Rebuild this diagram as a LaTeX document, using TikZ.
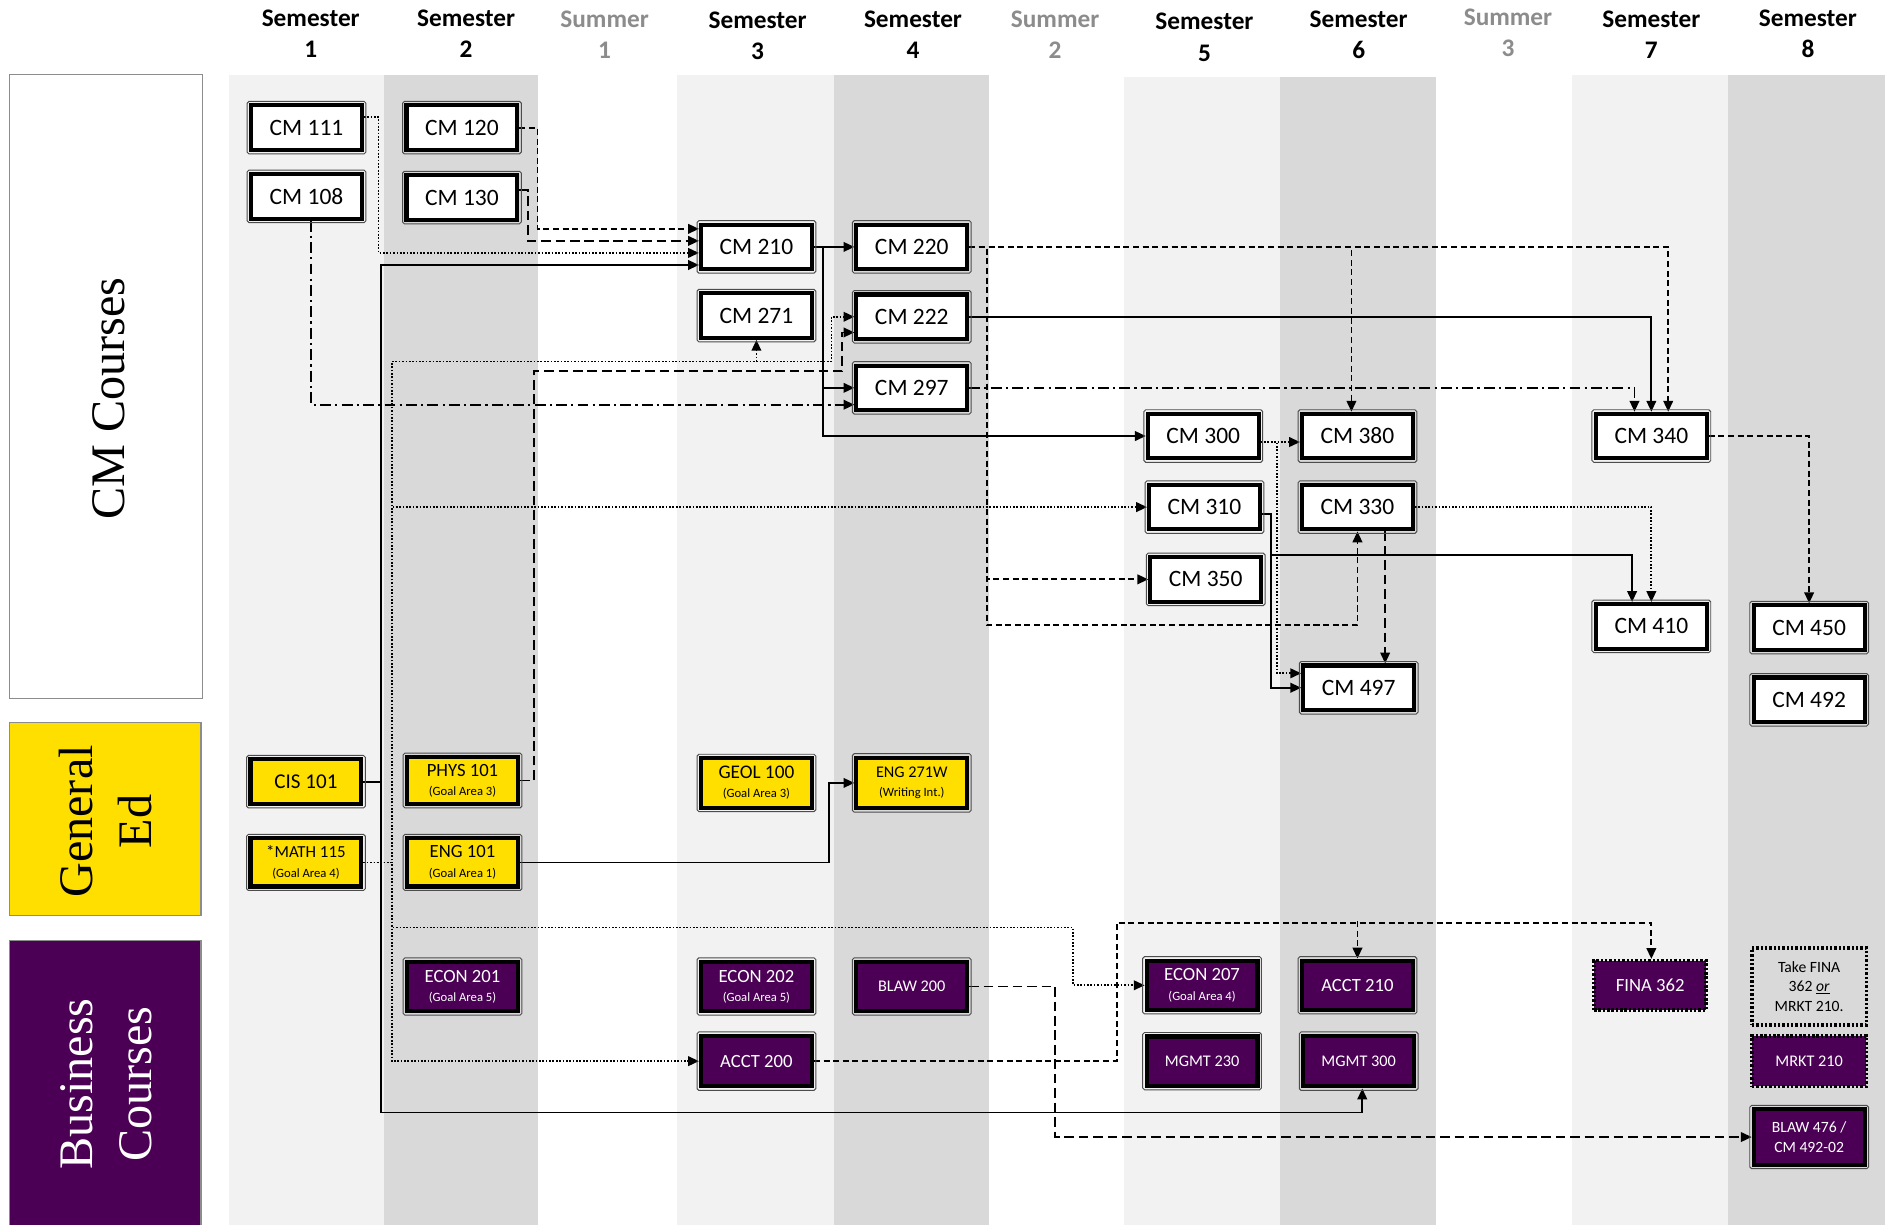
\documentclass[tikz,border=0pt]{standalone}
\usepackage{fontspec}
\setmainfont{Carlito}
\newfontfamily\seriffont{Liberation Serif}
\usetikzlibrary{arrows.meta,calc}
\definecolor{lightcol}{HTML}{F2F2F2}
\definecolor{darkcol}{HTML}{D9D9D9}
\definecolor{gold}{HTML}{FFDF00}
\definecolor{plum}{HTML}{4B0055}
\definecolor{sumgray}{HTML}{8C8C8C}
\pgfdeclarelayer{bg}
\pgfdeclarelayer{lines}
\pgfsetlayers{bg,lines,main}
\tikzset{
  cmbox/.style={draw=black, line width=3.4pt, fill=white, minimum width=92pt, minimum height=37pt,
    inner sep=0pt, align=center, font=\fontsize{19.5}{22}\selectfont},
  gebox/.style={cmbox, fill=gold, minimum height=39pt, font=\fontsize{15.5}{16}\selectfont},
  bzbox/.style={cmbox, fill=plum, text=white, minimum height=39pt, font=\fontsize{15.5}{16}\selectfont},
  dotbox/.style={draw=black, line width=2.8pt, dash pattern=on 2pt off 1.6pt, minimum width=95pt,
    inner sep=0pt, align=center},
  frame/.style={draw=black!70, line width=0.8pt, rounded corners=1.5pt},
  conn/.style={line width=1.5pt, -{Triangle[length=9pt,width=8pt]}},
  lndash/.style={dash pattern=on 5pt off 3pt},
  lndashl/.style={dash pattern=on 8pt off 4pt},
  lndot/.style={dash pattern=on 1.4pt off 1.4pt},
  lndd/.style={dash pattern=on 9pt off 3.5pt on 1.8pt off 3.5pt},
  hdr/.style={align=center, font=\fontsize{21}{26}\selectfont\bfseries, inner sep=0pt},
  side/.style={rotate=90, align=center, font=\seriffont\fontsize{40}{49}\selectfont, inner sep=0pt},
}
\begin{document}
\begin{tikzpicture}[x=1pt,y=-1pt]
\useasboundingbox (0,0) rectangle (1565,1017);
\begin{pgfonlayer}{bg}
\fill[white] (0,0) rectangle (1565,1017);
\fill[lightcol] (190,62) rectangle (319,1017);
\fill[darkcol] (319,62) rectangle (447,1017);
\fill[lightcol] (562,62) rectangle (692,1017);
\fill[darkcol] (692,62) rectangle (821,1017);
\fill[lightcol] (933,64) rectangle (1063,1017);
\fill[darkcol] (1063,64) rectangle (1192,1017);
\fill[lightcol] (1305,62) rectangle (1435,1017);
\fill[darkcol] (1435,62) rectangle (1565,1017);
\draw[draw=black!45, line width=1.2pt, fill=white] (8,62) rectangle (168,580);
\draw[draw=black!45, line width=1.2pt, fill=gold] (8,600) rectangle (167,760);
\draw[draw=black!45, line width=1.2pt, fill=plum] (8,781) rectangle (167,1020);
\end{pgfonlayer}

% side labels
\node[side] (lcm) at (90,331) {CM Courses};
\node[side] (lge) at (88,682) {General\\Ed};
\node[side, text=white] (lbz) at (88,900) {Business\\Courses};

% headers
\node[hdr] (h1) at (258,28) {Semester\\1};
\node[hdr] (h2) at (387,28) {Semester\\2};
\node[hdr, text=sumgray] (h3) at (502,29) {Summer\\1};
\node[hdr] (h4) at (629,30) {Semester\\3};
\node[hdr] (h5) at (758,29) {Semester\\4};
\node[hdr, text=sumgray] (h6) at (876,29) {Summer\\2};
\node[hdr] (h7) at (1000,31) {Semester\\5};
\node[hdr] (h8) at (1128,29) {Semester\\6};
\node[hdr, text=sumgray] (h9) at (1252,27) {Summer\\3};
\node[hdr] (h10) at (1371,29) {Semester\\7};
\node[hdr] (h11) at (1501,28) {Semester\\8};

% CM courses
\node[cmbox] (cm111) at (254.5,106) {CM 111};
\node[cmbox] (cm108) at (254.5,163) {CM 108};
\node[cmbox] (cm120) at (383.5,106) {CM 120};
\node[cmbox] (cm130) at (383.5,164) {CM 130};
\node[cmbox] (cm210) at (628,205) {CM 210};
\node[cmbox] (cm271) at (628,262) {CM 271};
\node[cmbox] (cm220) at (757,205) {CM 220};
\node[cmbox] (cm222) at (757,263) {CM 222};
\node[cmbox] (cm297) at (757,322) {CM 297};
\node[cmbox] (cm300) at (999,362) {CM 300};
\node[cmbox] (cm310) at (1000,421) {CM 310};
\node[cmbox] (cm350) at (1001,481) {CM 350};
\node[cmbox] (cm380) at (1127,362) {CM 380};
\node[cmbox] (cm330) at (1127,421) {CM 330};
\node[cmbox] (cm497) at (1128,571) {CM 497};
\node[cmbox] (cm340) at (1371,362) {CM 340};
\node[cmbox] (cm410) at (1371,520) {CM 410};
\node[cmbox] (cm450) at (1502,521) {CM 450};
\node[cmbox] (cm492) at (1502,581) {CM 492};

% General Ed
\node[gebox, minimum height=37pt, font=\fontsize{17.5}{20}\selectfont] (cis101) at (254,649) {CIS 101};
\node[gebox] (phys101) at (384,648) {PHYS 101\\{\fontsize{10.5}{12}\selectfont(Goal Area 3)}};
\node[gebox, minimum height=41pt, font=\fontsize{16}{16}\selectfont] (geol100) at (628,650) {GEOL 100\\{\fontsize{10.5}{12}\selectfont(Goal Area 3)}};
\node[gebox, minimum height=42pt, font=\fontsize{13.5}{16}\selectfont] (eng271w) at (757,650) {ENG 271W\\{\fontsize{10.5}{12}\selectfont(Writing Int.)}};
\node[gebox, minimum height=40pt, font=\fontsize{14}{16}\selectfont] (math115) at (254,716) {*MATH 115\\{\fontsize{10.5}{12}\selectfont(Goal Area 4)}};
\node[gebox, minimum height=40pt] (eng101) at (384,716) {ENG 101\\{\fontsize{10.5}{12}\selectfont(Goal Area 1)}};

% Business
\node[bzbox, minimum height=41pt] (econ201) at (384,819) {ECON 201\\{\fontsize{10.5}{12}\selectfont(Goal Area 5)}};
\node[bzbox, minimum height=41pt] (econ202) at (628,819) {ECON 202\\{\fontsize{10.5}{12}\selectfont(Goal Area 5)}};
\node[bzbox, minimum height=41pt, font=\fontsize{13.5}{16}\selectfont] (blaw200) at (757,819) {BLAW 200};
\node[bzbox, minimum height=42pt] (acct200) at (628,881) {ACCT 200};
\node[bzbox, minimum height=41pt] (econ207) at (998,818) {ECON 207\\{\fontsize{10.5}{12}\selectfont(Goal Area 4)}};
\node[bzbox, minimum height=41pt, font=\fontsize{13.5}{16}\selectfont] (mgmt230) at (998,881) {MGMT 230};
\node[bzbox, minimum height=41pt] (acct210) at (1127,818) {ACCT 210};
\node[bzbox, minimum height=42pt, font=\fontsize{13.5}{16}\selectfont] (mgmt300) at (1128,881) {MGMT 300};
\node[dotbox, fill=plum, text=white, minimum width=93pt, minimum height=41pt, font=\fontsize{15.5}{16}\selectfont] (fina362) at (1370,818) {FINA 362};
\node[dotbox, minimum height=64pt, font=\fontsize{13}{16}\selectfont] (take) at (1502,819) {Take FINA\\362 \underline{\textit{or}}\\MRKT 210.};
\node[dotbox, fill=plum, text=white, minimum height=42pt, font=\fontsize{13.5}{16}\selectfont] (mrkt210) at (1502,881) {MRKT 210};
\node[bzbox, minimum height=46pt, font=\fontsize{13}{16}\selectfont] (blaw476) at (1502,944) {BLAW 476 /\\CM 492-02};

% outer thin frames
\foreach \n in {cm111,cm108,cm120,cm130,cm210,cm271,cm220,cm222,cm297,cm300,cm310,cm350,cm380,cm330,cm497,cm340,cm410,cm450,cm492,cis101,phys101,geol100,eng271w,math115,eng101,econ201,econ202,blaw200,acct200,econ207,mgmt230,acct210,mgmt300,blaw476}
  \draw[frame] ([shift={(-1.6,-1.6)}]\n.north west) rectangle ([shift={(1.6,1.6)}]\n.south east);

\begin{pgfonlayer}{lines}
% into CM 210
\draw[conn,lndash] (cm120.east) -- ++(15,0) |- ($(cm210.west)+(0,-15)$);
\draw[conn,lndashl] ($(cm130.east)+(0,-6)$) -- ++(7,0) |- ($(cm210.west)+(0,-5)$);
\draw[conn,lndot] ($(cm111.east)+(0,-9)$) -- ++(12,0) |- ($(cm210.west)+(0,5)$);
\draw[conn] (cis101.east) -- ++(14.5,0) |- ($(cm210.west)+(0,15)$);
\draw[conn] (cis101.east) -- ++(14.5,0) |- ($(mgmt300.south)+(3,20)$) -- ($(mgmt300.south)+(3,0)$);
% CM 108 -> CM 297
\draw[conn,lndd] ($(cm108.south)+(4,0)$) |- ($(cm297.west)+(0,14)$);
% CM 210 out
\draw[conn] (cm210.east) -- (cm220.west);
\draw[conn] (cm210.east) -- ++(7.5,0) |- (cm297.west);
\draw[conn] (cm210.east) -- ++(7.5,0) |- (cm300.west);
% MATH 115 trunk
\draw[conn,lndot] (math115.east) -- ++(23.5,0) |- ($(cm271.south)+(0,18)$) -| ($(cm222.west)+(-19,0)$) -- (cm222.west);
\draw[conn,lndot] ($(cm271.south)+(0,18)$) -- (cm271.south);
\draw[conn,lndot] (math115.east) -- ++(23.5,0) |- (cm310.west);
\draw[conn,lndot] (math115.east) -- ++(23.5,0) |- ($(econ207.west)+(-59.5,-48)$) |- (econ207.west);
\draw[conn,lndot] (math115.east) -- ++(23.5,0) |- (acct200.west);
% PHYS 101 -> CM 222
\draw[conn,lndashl] (phys101.east) -- ++(11.5,0) |- ($(cm222.west)+(-10,45)$) |- ($(cm222.west)+(0,13)$);
% CM 220 out
\draw[conn,lndash] (cm220.east) -| ($(cm340.north)+(14,0)$);
\draw[conn,lndash] (cm220.east) -| ($(cm380.north)+(-5,0)$);
\draw[conn,lndash] (cm220.east) -- ++(14.5,0) |- (cm350.west);
\draw[conn,lndash] (cm220.east) -- ++(14.5,0) |- ($(cm330.south)+(0,78)$) -- (cm330.south);
% CM 222, CM 297 -> CM 340
\draw[conn] (cm222.east) -| (cm340.north);
\draw[conn,lndd] (cm297.east) -| ($(cm340.north)+(-14,0)$);
% CM 300 out
\draw[conn,lndot] ($(cm300.east)+(0,5)$) -- ($(cm380.west)+(0,5)$);
\draw[conn,lndot] ($(cm300.east)+(0,5)$) -- ++(13.5,0) |- ($(cm497.west)+(0,-12)$);
% CM 310 out
\draw[conn] ($(cm310.east)+(0,6)$) -- ++(7.5,0) |- (cm497.west);
\draw[conn] ($(cm310.east)+(7.5,40)$) -| ($(cm410.north)+(-16,0)$);
% CM 330 out
\draw[conn,lndot] (cm330.east) -| (cm410.north);
\draw[conn,lndashl] ($(cm330.south)+(23,0)$) -- ($(cm497.north)+(22,0)$);
% CM 340 -> CM 450
\draw[conn,lndash] (cm340.east) -| (cm450.north);
% ENG 101 -> ENG 271W
\draw[conn] (eng101.east) -- ++(256.5,0) |- (eng271w.west);
% ACCT 200 out
\draw[conn,lndash] (acct200.east) -- ++(251.5,0) |- ($(fina362.north)+(1,-30)$) -- ($(fina362.north)+(1,0)$);
\draw[conn,lndash] ($(acct210.north)+(0,-31)$) -- (acct210.north);
% BLAW 200 -> BLAW 476
\draw[conn,lndashl] (blaw200.east) -- ++(71.5,0) |- (blaw476.west);
\end{pgfonlayer}
\end{tikzpicture}
\end{document}
